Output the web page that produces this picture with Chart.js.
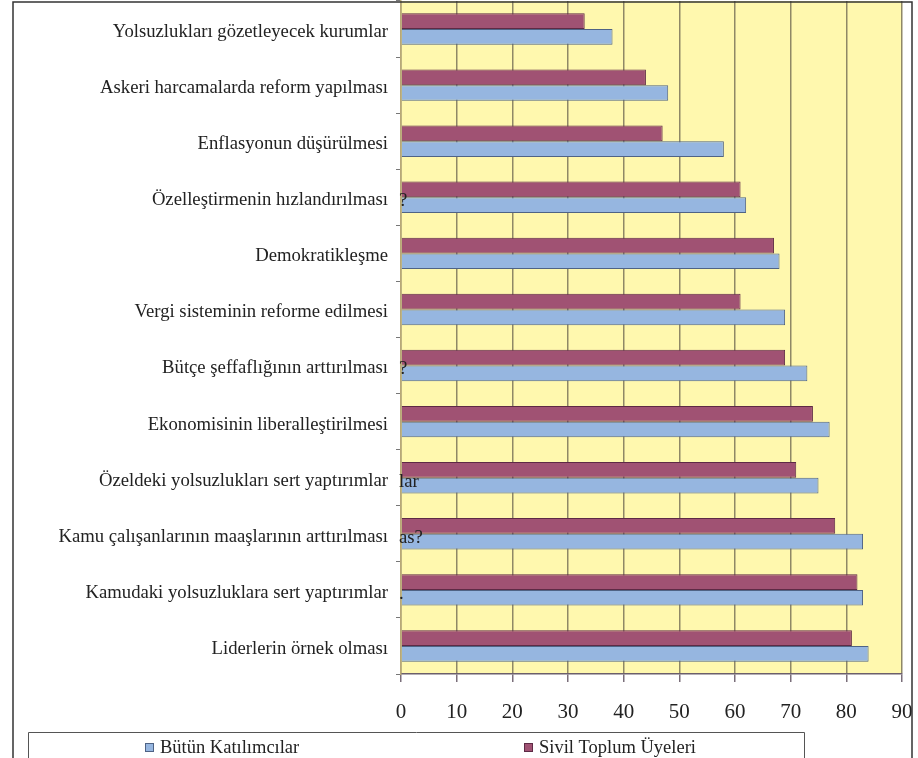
<!DOCTYPE html>
<html>
<head>
<meta charset="utf-8">
<script src="https://cdn.jsdelivr.net/npm/chart.js@4/dist/chart.umd.min.js"></script>
<style>
  html, body { margin: 0; padding: 0; background: #fff; }
  #wrap { width: 918px; height: 758px; }
</style>
</head>
<body>
<div id="wrap"><canvas id="chart" width="918" height="758"></canvas></div>
<script>
// Kategoriler (yukaridan asagiya)
const kategoriler = [
    'Yolsuzlukları gözetleyecek kurumlar',
    'Askeri harcamalarda reform yapılması',
    'Enflasyonun düşürülmesi',
    'Özelleştirmenin hızlandırılması',
    'Demokratikleşme',
    'Vergi sisteminin reforme edilmesi',
    'Bütçe şeffaflığının arttırılması',
    'Ekonomisinin liberalleştirilmesi',
    'Özeldeki yolsuzlukları sert yaptırımlar',
    'Kamu çalışanlarının maaşlarının arttırılması',
    'Kamudaki yolsuzluklara sert yaptırımlar',
    'Liderlerin örnek olması'
];

// taşan etiket parçaları (orijinalde barların üstünde görünen)
const tasanMetin = ['', '', '', '?', '', '', '?', '', 'lar', 'as?', '.', ''];

const butunKatilimcilar = [38, 48, 58, 62, 68, 69, 73, 77, 75, 83, 83, 84];
const sivilToplum = [33, 44, 47, 61, 67, 61, 69, 74, 71, 78, 82, 81];

const xTicks = [0, 10, 20, 30, 40, 50, 60, 70, 80, 90];

const serif = '"Liberation Serif", "DejaVu Serif", serif';
const textColor = '#222';

// Arka plan, cerceve ve lejant
const cerceve = {
    id: 'cerceve',
    beforeDraw(chart) {
        const { ctx, chartArea: a } = chart;
        ctx.save();
        ctx.fillStyle = '#fff';
        ctx.fillRect(0, 0, chart.width, chart.height);
        ctx.fillStyle = '#fff8ae';
        ctx.fillRect(a.left, a.top, a.right - a.left, a.bottom - a.top);
        ctx.restore();
    },
    afterDatasetsDraw(chart) {
        const { ctx } = chart;
        const y = chart.scales.y;
        const a = chart.chartArea;
        ctx.save();
        ctx.font = '18.7px ' + serif;
        ctx.fillStyle = textColor;
        ctx.textAlign = 'left';
        ctx.textBaseline = 'middle';
        tasanMetin.forEach((t, i) => {
            if (t) ctx.fillText(t, a.left - 2, y.getPixelForValue(i) + 4);
        });
        ctx.restore();
    },
    afterDraw(chart) {
        const { ctx } = chart;
        ctx.save();
        // dis cerceve
        ctx.strokeStyle = '#333';
        ctx.lineWidth = 1.5;
        ctx.beginPath();
        ctx.moveTo(13, 770);
        ctx.lineTo(13, 2);
        ctx.lineTo(912, 2);
        ctx.lineTo(912, 770);
        ctx.stroke();

        // lejant kutusu
        const lx1 = 28, lx2 = 804, ly = 732;
        ctx.strokeStyle = '#555';
        ctx.lineWidth = 1;
        ctx.beginPath();
        ctx.moveTo(lx1 + 0.5, 770);
        ctx.lineTo(lx1 + 0.5, ly + 0.5);
        ctx.lineTo(lx2 + 0.5, ly + 0.5);
        ctx.lineTo(lx2 + 0.5, 770);
        ctx.stroke();

        // lejant ogeleri: Butun once, sonra Sivil
        const items = chart.data.datasets.slice().reverse();
        const half = (lx2 - lx1) / items.length;
        ctx.font = '18.5px ' + serif;
        ctx.textBaseline = 'middle';
        ctx.textAlign = 'left';
        const cy = 748;
        items.forEach((ds, i) => {
            const tw = ctx.measureText(ds.label).width;
            const total = 15 + tw;
            const cx = lx1 + half * i + half / 2;
            const sx = Math.round(cx - total / 2);
            ctx.fillStyle = ds.backgroundColor;
            ctx.fillRect(sx, cy - 5, 9, 9);
            ctx.strokeStyle = ds.borderColor;
            ctx.lineWidth = 1;
            ctx.strokeRect(sx + 0.5, cy - 4.5, 8, 8);
            ctx.fillStyle = textColor;
            ctx.fillText(ds.label, sx + 15, cy);
        });
        ctx.restore();
    }
};

new Chart(document.getElementById('chart'), {
    type: 'bar',
    data: {
        labels: kategoriler,
        datasets: [
            {
                label: 'Sivil Toplum Üyeleri',
                data: sivilToplum,
                backgroundColor: '#a05273',
                borderColor: '#5e2a45',
                borderWidth: 1,
                categoryPercentage: 0.56,
                barPercentage: 1.0
            },
            {
                label: 'Bütün Katılımcılar',
                data: butunKatilimcilar,
                backgroundColor: '#96b6e0',
                borderColor: '#4f6385',
                borderWidth: 1,
                categoryPercentage: 0.56,
                barPercentage: 1.0
            }
        ]
    },
    options: {
        indexAxis: 'y',
        responsive: false,
        animation: false,
        devicePixelRatio: 1,
        layout: { padding: { left: 0, right: 16, top: 1, bottom: 0 } },
        plugins: {
            legend: { display: false },
            tooltip: { enabled: false }
        },
        scales: {
            x: {
                min: 0,
                max: 90,
                afterBuildTicks(scale) {
                    scale.ticks = xTicks.map(v => ({ value: v }));
                },
                afterFit(scale) {
                    scale.height = 84;
                    scale.paddingLeft = 0;
                    scale.paddingRight = 0;
                },
                grid: {
                    color: '#8f8866',
                    lineWidth: 1.5,
                    tickLength: 8,
                    tickColor: '#7a6e7a'
                },
                border: { color: '#6b5f6b', width: 1.5 },
                ticks: {
                    font: { family: serif, size: 21 },
                    color: textColor,
                    padding: 18
                }
            },
            y: {
                afterFit(scale) {
                    scale.width = 401;
                    scale.paddingTop = 0;
                    scale.paddingBottom = 0;
                },
                grid: {
                    drawOnChartArea: false,
                    tickLength: 5,
                    color: '#777'
                },
                border: { color: '#b8a878', width: 1.5 },
                ticks: {
                    font: { family: serif, size: 18.7 },
                    color: textColor,
                    padding: 8,
                    labelOffset: 3,
                    autoSkip: false
                }
            }
        }
    },
    plugins: [cerceve]
});
</script>
</body>
</html>
